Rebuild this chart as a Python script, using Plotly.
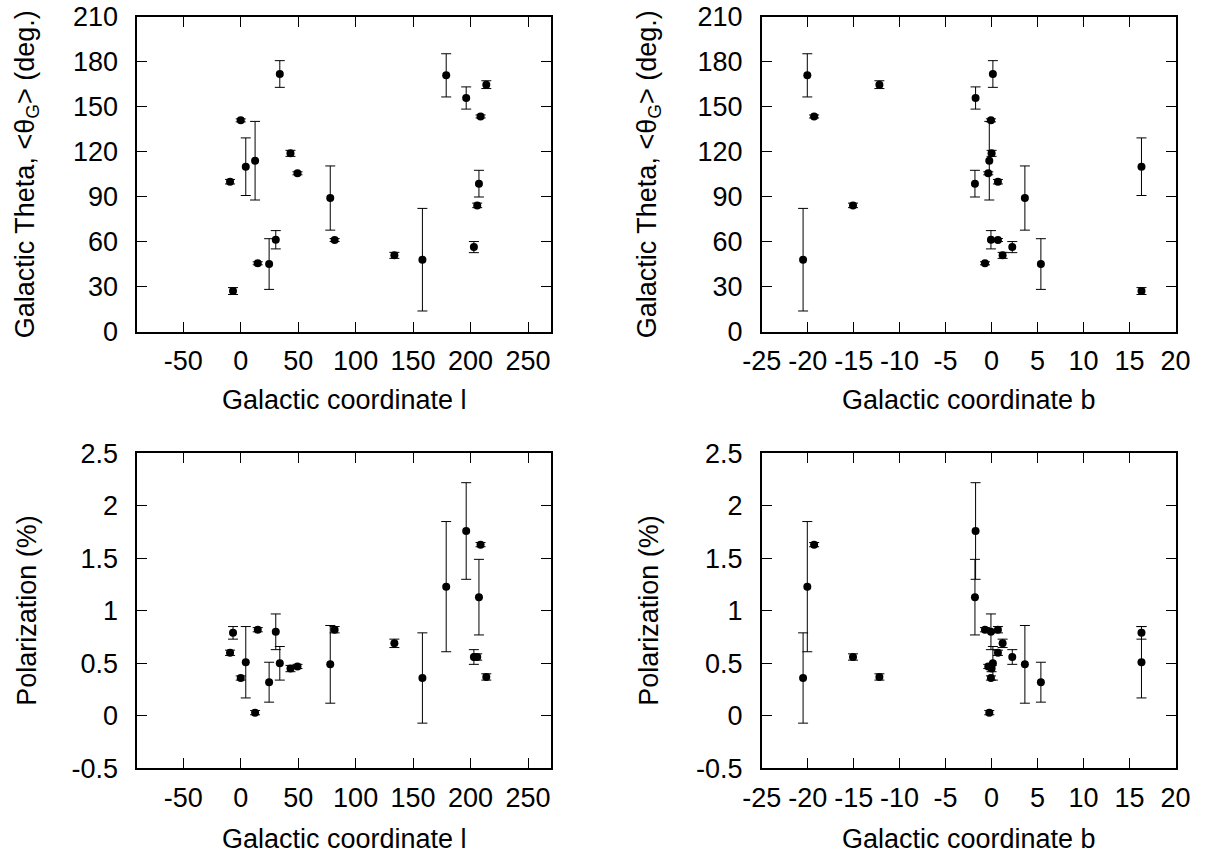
import plotly.graph_objects as go

# ---------------------------------------------
# Data
# ---------------------------------------------
gal_l = [-9.3, -6.7, 0.0, 4.4, 12.5, 14.8, 24.7, 30.5, 34.0, 43.3, 49.4,
         77.9, 81.7, 133.7, 158.1, 178.8, 196.2, 202.9, 205.8, 207.3, 208.7, 213.7]
gal_b = [0.69, 16.3, -0.07, 16.3, -0.25, -0.72, 5.36, -0.07, 0.14, 0.0, -0.36,
         3.62, 0.69, 1.2, -20.5, -20.04, -1.74, 2.25, -15.07, -1.81, -19.3, -12.2]
theta = [100.0, 27.1, 140.9, 110.0, 114.0, 45.6, 45.1, 61.3, 171.8, 118.9, 105.6,
         89.1, 61.1, 50.9, 48.0, 170.9, 155.8, 56.4, 84.2, 98.7, 143.5, 164.7]
theta_err = [1.5, 2.3, 1.0, 19.2, 26.2, 1.0, 16.9, 6.1, 8.9, 2.0, 1.0,
             21.4, 1.0, 2.0, 34.2, 14.4, 7.4, 3.7, 1.5, 8.9, 1.0, 2.6]
pol = [0.60, 0.79, 0.36, 0.51, 0.03, 0.82, 0.32, 0.80, 0.50, 0.45, 0.47,
       0.49, 0.82, 0.69, 0.36, 1.23, 1.76, 0.56, 0.56, 1.13, 1.63, 0.37]
pol_err = [0.025, 0.06, 0.02, 0.34, 0.02, 0.02, 0.19, 0.17, 0.16, 0.03, 0.02,
           0.37, 0.03, 0.04, 0.43, 0.62, 0.46, 0.07, 0.03, 0.36, 0.02, 0.03]

l_ticks = [-50, 0, 50, 100, 150, 200, 250]
b_ticks = [-25, -20, -15, -10, -5, 0, 5, 10, 15, 20]
theta_ticks = [0, 30, 60, 90, 120, 150, 180, 210]
pol_ticks = [-0.5, 0, 0.5, 1, 1.5, 2, 2.5]

W, H = 1209, 858
FONT = "Liberation Sans, Arial, sans-serif"
FS = 27


def px(x):
    return x / W


def py(y):
    return 1 - y / H


fig = go.Figure()


def add_panel(x, y, err, n):
    fig.add_trace(go.Scatter(
        x=x, y=y, mode="markers",
        marker=dict(color="black", size=8),
        error_y=dict(type="data", array=err, visible=True,
                     color="black", thickness=1, width=5),
        xaxis="x" if n == 1 else f"x{n}",
        yaxis="y" if n == 1 else f"y{n}",
        showlegend=False,
    ))


add_panel(gal_l, theta, theta_err, 1)
add_panel(gal_b, theta, theta_err, 2)
add_panel(gal_l, pol, pol_err, 3)
add_panel(gal_b, pol, pol_err, 4)

# panel frames (pixels)
left_dom = [px(137.3), px(551.0)]
right_dom = [px(761.7), px(1175.5)]
top_dom = [py(331.7), py(16.7)]
bot_dom = [py(768.3), py(453.3)]


def ax(dom, rng, ticks, anchor, standoff):
    return dict(
        domain=dom, range=rng, anchor=anchor,
        tickmode="array", tickvals=ticks, ticktext=[f"{t:g}" for t in ticks],
        ticks="inside", ticklen=10, tickwidth=1.3, tickcolor="black",
        showline=True, linecolor="black", linewidth=1.7, mirror="ticks",
        showgrid=False, zeroline=False, automargin=False,
        ticklabelstandoff=standoff,
        tickfont=dict(family=FONT, size=FS, color="black"),
    )


XS, YS = 4, 12

fig.update_layout(
    width=W, height=H,
    margin=dict(l=0, r=0, t=0, b=0),
    paper_bgcolor="white", plot_bgcolor="white",
    font=dict(family=FONT, size=FS, color="black"),
    xaxis=ax(left_dom, [-90, 270], l_ticks, "y", XS),
    yaxis=ax(top_dom, [0, 210], theta_ticks, "x", YS),
    xaxis2=ax(right_dom, [-25, 20], b_ticks, "y2", XS),
    yaxis2=ax(top_dom, [0, 210], theta_ticks, "x2", YS),
    xaxis3=ax(left_dom, [-90, 270], l_ticks, "y3", XS),
    yaxis3=ax(bot_dom, [-0.5, 2.5], pol_ticks, "x3", YS),
    xaxis4=ax(right_dom, [-25, 20], b_ticks, "y4", XS),
    yaxis4=ax(bot_dom, [-0.5, 2.5], pol_ticks, "x4", YS),
)

# axis titles
theta_title = "Galactic Theta, &lt;θ<sub>G</sub>&gt; (deg.)"
titles = [
    ("Galactic coordinate l", px(344.2), py(400), 0),
    ("Galactic coordinate b", px(968.6), py(400), 0),
    ("Galactic coordinate l", px(344.2), py(839), 0),
    ("Galactic coordinate b", px(968.6), py(839), 0),
    (theta_title, px(27), py(174.2), -90),
    (theta_title, px(649), py(174.2), -90),
    ("Polarization (%)", px(27), py(610.8), -90),
    ("Polarization (%)", px(649), py(610.8), -90),
]
for text, x, y, ang in titles:
    fig.add_annotation(text=text, x=x, y=y, xref="paper", yref="paper",
                       xanchor="center", yanchor="middle", textangle=ang,
                       showarrow=False, font=dict(family=FONT, size=FS, color="black"))

# drop the default page margin so the figure sits at the window corner
fig.write_html("out.html", config={"displayModeBar": False},
               post_script="document.body.style.margin='0';")
